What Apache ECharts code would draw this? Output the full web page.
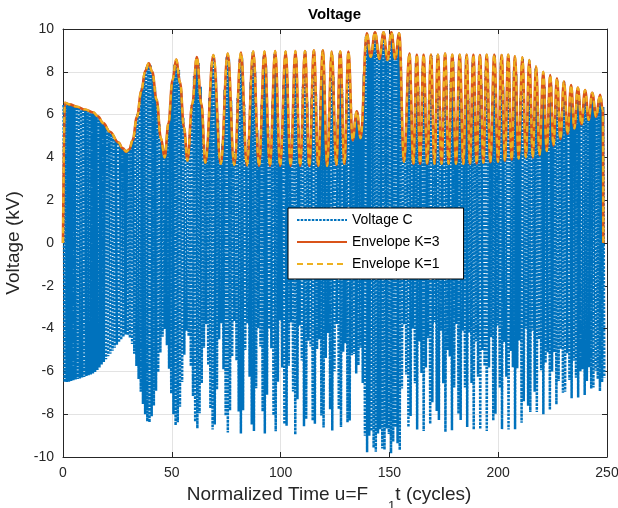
<!DOCTYPE html>
<html><head><meta charset="utf-8">
<script src="https://cdn.jsdelivr.net/npm/echarts@6/dist/echarts.min.js"></script>
<style>html,body{margin:0;padding:0;background:#fff}#c{width:618px;height:508px}</style>
</head><body><div id="c"></div>
<script>
// ---- data ----
const xTickStep = 50;          // x axis: 0..250
const yTickStep = 2;           // y axis: -10..10
// Voltage C: one extreme value per half cycle, first at u = 0.25, then every 0.5 cycle
const vcStart = 0.25;
const vcStep = 0.5;
const voltageC = [
 6.45,-6.5,6.52,-6.5,6.49,-6.48,6.46,-6.45,6.43,-6.42,6.4,-6.38,6.37,-6.36,6.34,-6.33,6.31,-6.29,6.27,-6.26,
 6.24,-6.22,6.2,-6.18,6.16,-6.14,6.12,-6.1,6.07,-6.03,5.99,-5.94,5.88,-5.82,5.75,-5.68,5.62,-5.56,5.5,-5.43,
 5.36,-5.29,5.23,-5.17,5.1,-5.04,4.97,-4.9,4.83,-4.76,4.7,-4.64,4.58,-4.52,4.45,-4.38,4.31,-4.27,4.28,-4.31,
 4.36,-4.43,4.55,-4.72,4.92,-5.17,5.45,-5.75,6.05,-6.35,6.65,-6.95,7.25,-7.52,7.77,-8.0,8.2,-8.33,8.4,-8.38,
 8.3,-8.1,7.87,-7.6,7.28,-6.9,6.48,-6.03,5.57,-5.12,4.72,-4.38,4.12,-4.02,4.3,-4.78,5.3,-5.88,6.48,-7.03,
 7.55,-8.0,8.33,-8.52,8.52,-8.38,8.08,-7.65,7.1,-6.5,5.87,-5.22,4.6,-4.1,3.88,-4.35,5.05,-5.75,6.45,-7.15,
 7.8,-8.35,8.62,-8.66,8.42,-7.95,7.3,-6.55,5.75,-4.9,4.05,-3.8,4.6,-5.7,6.78,-7.73,8.32,-8.72,8.76,-8.48,
 7.78,-6.85,5.72,-4.5,3.75,-3.75,4.64,-5.9,7.16,-8.07,8.7,-8.85,8.58,-7.82,6.66,-5.3,4.05,-3.65,4.27,-5.49,
 6.79,-7.87,8.61,-8.9,8.66,-7.82,6.5,-5.0,3.78,-3.75,4.84,-6.25,7.51,-8.48,8.92,-8.78,8.02,-6.79,5.27,-3.98,
 3.68,-4.84,6.48,-7.87,8.72,-8.9,8.3,-7.09,5.49,-4.02,3.68,-4.92,6.63,-8.05,8.83,-8.8,7.93,-6.48,4.68,-3.61,
 4.27,-5.82,7.37,-8.46,8.94,-8.54,7.44,-5.74,4.07,-3.72,5.16,-6.94,8.34,-8.95,8.54,-7.3,5.49,-3.86,3.86,-5.49,
 7.3,-8.56,8.96,-8.22,6.6,-4.57,3.62,-4.84,6.79,-8.3,8.98,-8.45,6.98,-4.96,3.62,-4.5,6.4,-8.06,8.95,-8.62,
 7.34,-5.37,3.74,-4.2,5.99,-7.77,8.76,-8.76,7.77,-5.99,4.22,-3.78,5.65,-7.77,8.88,-8.6,7.16,-5.08,3.72,-4.68,
 6.79,-8.38,8.93,-8.3,6.86,-5.25,4.82,-5.19,5.74,-6.1,6.1,-5.71,5.2,-4.9,5.32,-6.54,7.89,-9.01,9.65,-9.78,
 9.48,-9.01,8.72,-8.79,9.14,-9.57,9.83,-9.76,9.37,-8.9,8.62,-8.7,9.12,-9.6,9.85,-9.66,9.14,-8.67,8.57,-8.93,
 9.47,-9.83,9.74,-9.29,8.78,-8.6,8.86,-9.36,9.74,-9.68,8.65,-6.8,4.71,-3.8,4.55,-6.15,7.63,-8.6,8.84,-8.08,
 6.15,-4.0,4.13,-6.55,8.42,-8.72,7.3,-4.6,3.78,-6.07,8.15,-8.79,7.98,-5.82,3.78,-4.45,6.75,-8.45,8.75,-7.44,
 5.0,-3.7,5.45,-7.85,8.79,-8.27,6.3,-4.1,4.15,-6.55,8.45,-8.82,7.44,-5.0,3.7,-5.3,7.63,-8.75,8.47,-6.75,
 4.45,-3.78,5.82,-7.98,8.79,-8.27,6.3,-4.1,4.2,-6.75,8.6,-8.6,6.75,-4.2,4.13,-6.55,8.45,-8.72,7.3,-4.6,
 3.82,-6.25,8.4,-8.7,7.44,-5.0,3.76,-5.75,8.08,-8.78,7.98,-5.82,3.85,-4.4,6.55,-8.3,8.78,-7.98,5.82,-3.86,
 4.48,-6.77,8.45,-8.7,7.3,-4.63,3.9,-6.25,8.4,-8.72,7.44,-5.05,3.92,-5.8,8.05,-8.7,7.9,-5.85,4.0,-4.55,
 6.78,-8.4,8.62,-7.4,5.1,-4.0,5.5,-7.6,8.53,-7.9,6.0,-4.1,4.75,-6.95,8.15,-7.9,6.3,-4.5,4.4,-5.95,
 7.5,-8.0,7.3,-5.6,4.32,-5.1,6.7,-7.8,7.4,-6.0,4.7,-5.1,6.4,-7.55,7.55,-6.45,5.25,-4.95,5.9,-7.0,
 7.55,-6.95,5.9,-5.15,5.45,-6.4,7.2,-7.25,6.4,-5.5,5.5,-6.3,7.05,-7.22,6.7,-6.0,5.56,-5.9,6.6,-7.1,
 7.0,-6.45,5.9,-5.8,6.2,-6.8,7.02,-6.75,6.35,-5.97,5.98,-6.35,6.7,-6.92,6.75,-6.5,6.35,-6.3
];
// Envelope: turning points (time in cycles, value in kV)
const envTime = [0,0.8,3,6.3,10,13.9,16,18.5,21.6,25.4,
 27.5,29,30.5,32,34,36,37.8,39.4,41,43,
 45,46.7,48.5,50.3,52,53.8,55.6,57.2,59.4,61.5,
 63.6,65.4,69.1,72.5,75.7,78.7,81.8,84.5,87.4,90.1,
 92.6,95.1,97.5,99.8,102.3,104.6,106.8,109,111.2,113.2,
 115.3,117.3,119.4,121.4,123.5,125.6,127.4,129.3,131.2,133.1,
 135,136.8,139.6,141.4,143.4,145.4,147.3,149.1,150.9,152.7,
 154.5,156.7,159.2,161,162.6,164.1,165.7,167.4,169.1,170.7,
 172.3,174,175.6,177.2,178.9,180.6,182.3,184,185.5,187,
 188.6,190.1,191.6,193.2,194.7,196.4,198.2,199.9,201.6,203.1,
 204.6,206.2,207.7,209.4,211.1,212.7,214.3,215.9,217.4,219,
 220.7,222.3,223.9,225.4,227,228.6,230.2,231.9,233.5,235,
 236.6,238.3,239.9,241.6,243.2,245,246.8,248.1,248.3];
const envK3 = [0,6.55,6.48,6.37,6.24,6.1,5.92,5.6,5.2,4.7,
 4.42,4.27,4.38,4.8,5.9,7.1,8.05,8.4,8.0,6.7,
 4.9,4.0,5.6,7.6,8.57,7.5,5.4,3.85,6.5,8.69,
 6.5,3.75,8.78,3.7,8.85,3.65,8.9,3.62,8.95,3.6,
 8.95,3.6,8.97,3.6,8.95,3.6,8.97,3.6,8.97,3.6,
 9.0,3.6,9.0,3.6,8.95,3.65,8.95,3.7,8.95,4.8,
 6.15,4.9,9.8,8.7,9.85,8.6,9.85,8.55,9.85,8.6,
 9.8,3.8,8.85,3.7,8.8,3.7,8.8,3.7,8.8,3.7,
 8.8,3.7,8.85,3.7,8.8,3.7,8.8,3.7,8.8,3.7,
 8.8,3.72,8.78,3.75,8.8,3.78,8.8,3.8,8.78,3.85,
 8.8,3.9,8.72,3.95,8.68,4.0,8.55,4.0,8.25,4.1,
 8.0,4.3,7.85,4.55,7.7,4.85,7.55,5.1,7.38,5.35,
 7.26,5.55,7.15,5.75,7.02,5.9,6.92,6.2,0];
const envK1 = envK3.slice(); // the K=1 envelope lies on the K=3 one at this scale

// ---- build the library's data tables ----
const vcData = voltageC.map((v, i) => [vcStart + i * vcStep, v]);
const envK3Data = envTime.map((t, i) => [t, envK3[i]]);
const envK1Data = envTime.map((t, i) => [t, envK1[i]]);

const font = "'Liberation Sans', Arial, Helvetica, sans-serif";
const ink = '#262626';
const gridColor = '#e3e3e3';

const baseAxis = {
  axisLine: { show: true, onZero: false, lineStyle: { color: ink, width: 1 } },
  axisTick: { show: true, inside: true, length: 5, lineStyle: { color: ink, width: 1 } },
};

const chart = echarts.init(document.getElementById('c'), null, { renderer: 'canvas' });
chart.setOption({
  animation: false,
  backgroundColor: '#fff',
  title: {
    text: 'Voltage', left: 308, top: 7, padding: 0,
    textStyle: { fontFamily: font, fontSize: 15, fontWeight: 'bold', color: '#000' }
  },
  grid: { left: 63, right: 11, top: 29, bottom: 51, containLabel: false, outerBoundsMode: 'none' },
  legend: {
    orient: 'vertical', left: 288, top: 208,
    itemWidth: 50, itemHeight: 14, itemGap: 8,
    padding: [5, 24, 8, 8],
    backgroundColor: '#fff', borderColor: '#000', borderWidth: 1, borderRadius: 0,
    itemStyle: { opacity: 0 },
    textStyle: { fontFamily: font, fontSize: 14, color: '#000' },
    data: ['Voltage C', 'Envelope K=3', 'Envelope K=1']
  },
  xAxis: [
    Object.assign({}, baseAxis, {
      type: 'value', min: 0, max: 250, interval: xTickStep, position: 'bottom',
      axisLabel: { color: ink, fontSize: 14, fontFamily: font, margin: 9 },
      splitLine: { show: true, lineStyle: { color: gridColor, width: 1 } },
      name: '{a|Normalized Time u=F}{g| }{s|1}{b|t (cycles)}',
      nameLocation: 'middle', nameGap: 25,
      nameTextStyle: {
        rich: {
          a: { fontFamily: font, fontSize: 19, color: ink, lineHeight: 20, verticalAlign: 'top' },
          b: { fontFamily: font, fontSize: 19, color: ink, lineHeight: 20, verticalAlign: 'top', padding: [0, 12, 0, 0] },
          g: { fontFamily: font, fontSize: 19, width: 20, lineHeight: 20, verticalAlign: 'top' },
          s: { fontFamily: font, fontSize: 13, color: ink, lineHeight: 28, verticalAlign: 'bottom' }
        }
      }
    }),
    Object.assign({}, baseAxis, {
      type: 'value', min: 0, max: 250, interval: xTickStep, position: 'top',
      axisLabel: { show: false }, splitLine: { show: false }
    })
  ],
  yAxis: [
    Object.assign({}, baseAxis, {
      type: 'value', min: -10, max: 10, interval: yTickStep, position: 'left',
      axisLabel: { color: ink, fontSize: 14, fontFamily: font, margin: 9 },
      splitLine: { show: true, lineStyle: { color: gridColor, width: 1 } },
      name: 'Voltage (kV)', nameLocation: 'middle', nameGap: 33,
      nameTextStyle: { fontFamily: font, fontSize: 19, color: ink }
    }),
    Object.assign({}, baseAxis, {
      type: 'value', min: -10, max: 10, interval: yTickStep, position: 'right',
      axisLabel: { show: false }, splitLine: { show: false }
    })
  ],
  series: [
    {
      name: 'Voltage C', type: 'line', data: vcData, symbol: 'none', silent: true, z: 2,
      lineStyle: { color: '#0072BD', width: 2.5, type: [2.5, 1.2], cap: 'butt' },
      itemStyle: { color: '#0072BD' }
    },
    {
      name: 'Envelope K=3', type: 'line', data: envK3Data, symbol: 'none', silent: true,
      smooth: 0.4, smoothMonotone: 'x', z: 3,
      lineStyle: { color: '#D95319', width: 2.6 },
      itemStyle: { color: '#D95319' }
    },
    {
      name: 'Envelope K=1', type: 'line', data: envK1Data, symbol: 'none', silent: true,
      smooth: 0.4, smoothMonotone: 'x', z: 4,
      lineStyle: { color: '#EDB120', width: 2.2, type: [6, 4] },
      itemStyle: { color: '#EDB120' }
    }
  ]
});
</script>
</body></html>
